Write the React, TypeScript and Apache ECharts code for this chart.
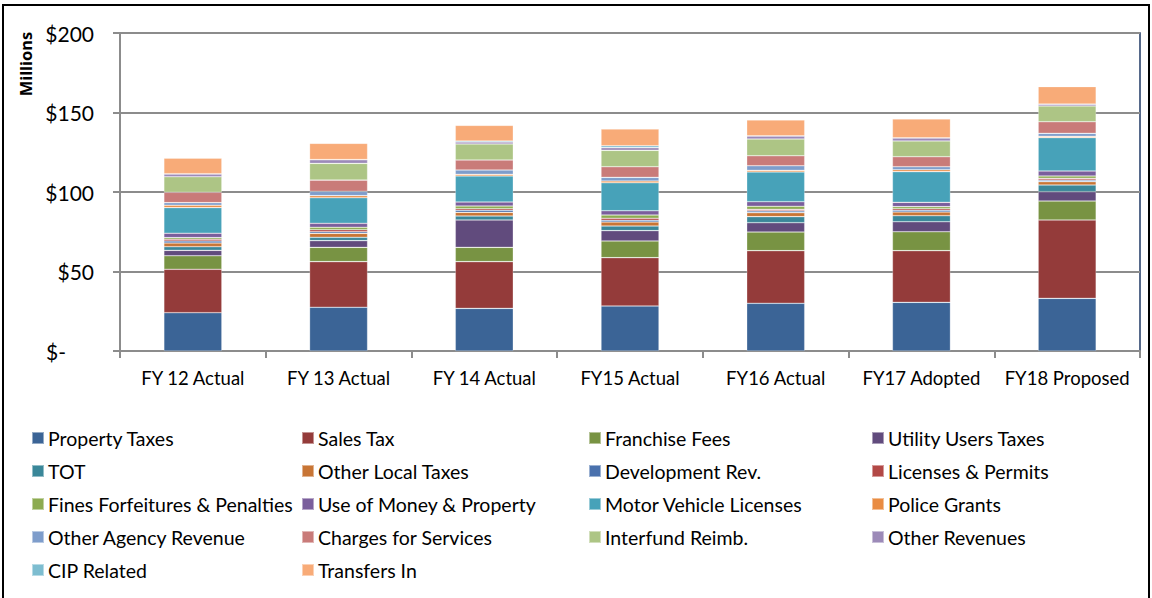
import React, { useEffect, useRef } from "react";
import * as echarts from "echarts";

const categories = ["FY 12 Actual", "FY 13 Actual", "FY 14 Actual", "FY15 Actual", "FY16 Actual", "FY17 Adopted", "FY18 Proposed"];

const seriesNames = [
  "Property Taxes", "Sales Tax", "Franchise Fees", "Utility Users Taxes",
  "TOT", "Other Local Taxes", "Development Rev.", "Licenses & Permits",
  "Fines Forfeitures & Penalties", "Use of Money & Property", "Motor Vehicle Licenses", "Police Grants",
  "Other Agency Revenue", "Charges for Services", "Interfund Reimb.", "Other Revenues",
  "CIP Related", "Transfers In",
];

const propertyTaxes = [24.1, 27.5, 26.8, 28.3, 30.0, 30.6, 33.1];
const salesTax = [27.3, 28.7, 29.4, 30.4, 33.1, 32.5, 49.3];
const franchiseFees = [8.5, 9.0, 9.0, 10.5, 11.7, 11.9, 11.9];
const utilityUsersTaxes = [3.4, 4.2, 17.2, 6.5, 5.9, 6.3, 5.9];
const tot = [2.3, 2.1, 2.5, 2.9, 3.8, 3.8, 4.2];
const otherLocalTaxes = [2.3, 2.5, 2.3, 2.5, 2.5, 2.3, 2.1];
const developmentRev = [1.3, 1.0, 1.3, 1.1, 1.1, 1.1, 1.0];
const licensesPermits = [1.1, 1.3, 1.0, 1.3, 1.0, 1.0, 1.1];
const finesPenalties = [1.0, 1.5, 1.7, 2.0, 1.9, 1.3, 1.5];
const useOfMoney = [2.8, 2.5, 2.5, 2.7, 2.9, 2.7, 3.1];
const motorVehicle = [16.1, 16.1, 16.4, 17.6, 18.7, 19.3, 21.0];
const policeGrants = [1.5, 1.3, 1.0, 1.1, 1.0, 1.2, 0.8];
const otherAgency = [1.6, 2.7, 2.7, 2.3, 2.9, 1.9, 1.9];
const chargesServices = [6.5, 7.1, 6.3, 6.7, 6.3, 6.3, 7.3];
const interfundReimb = [9.8, 10.5, 10.1, 10.3, 10.5, 9.9, 9.9];
const otherRevenues = [1.7, 2.3, 1.2, 1.7, 1.9, 1.9, 1.1];
const cipRelated = [0.2, 0.1, 0.7, 1.2, 0.1, 0.1, 0.1];
const transfersIn = [9.8, 10.2, 9.8, 10.5, 10.0, 11.8, 11.0];

const seriesValues = [
  propertyTaxes, salesTax, franchiseFees, utilityUsersTaxes,
  tot, otherLocalTaxes, developmentRev, licensesPermits,
  finesPenalties, useOfMoney, motorVehicle, policeGrants,
  otherAgency, chargesServices, interfundReimb, otherRevenues,
  cipRelated, transfersIn,
];

const colors = [
  "#3B6496", "#943B3A", "#789343", "#614B7D",
  "#3A8799", "#C87535", "#4A71AD", "#B24846",
  "#8CAB50", "#7A5E9C", "#47A2B9", "#E98C43",
  "#7E9DCB", "#C97B79", "#ADC585", "#9C8AB8",
  "#7DBDD0", "#F8AB78",
];

const yTicks = [0, 50, 100, 150, 200];

const FONT = "Lato";

export default function App() {
  const ref = useRef<HTMLDivElement>(null);
  useEffect(() => {
    if (!ref.current) return;
    const chart = echarts.init(ref.current, null, { renderer: "svg" });
    const legendCols = [0, 1, 2, 3].map((c) => seriesNames.filter((_, i) => i % 4 === c));
    const legendLefts = [31, 301, 588, 871];
    chart.setOption({
      animation: false,
      color: colors,
      grid: { left: 120, right: 12, top: 33, bottom: 247, show: true, borderColor: "#1F3864", borderWidth: 1.5 },
      xAxis: {
        type: "category",
        data: categories,
        axisLine: { lineStyle: { color: "#8C8C8C", width: 2 } },
        axisTick: { show: true, length: 7, lineStyle: { color: "#8C8C8C", width: 2 } },
        axisLabel: { color: "#000", fontFamily: FONT, fontSize: 18.5, margin: 17, interval: 0 },
      },
      yAxis: {
        type: "value",
        min: yTicks[0],
        max: yTicks[yTicks.length - 1],
        interval: 50,
        axisLine: { show: true, lineStyle: { color: "#8C8C8C", width: 2 } },
        axisTick: { show: true, length: 7, lineStyle: { color: "#8C8C8C", width: 2 } },
        splitLine: { lineStyle: { color: "#8C8C8C", width: 2 } },
        axisLabel: {
          color: "#000",
          fontFamily: FONT,
          fontSize: 21,
          margin: 26,
          formatter: (v: number) => (v === 0 ? "{z|$-}" : "$" + v),
          rich: { z: { fontFamily: FONT, fontSize: 21, color: "#000", padding: [0, 28, 0, 0] } },
        },
      },
      legend: legendCols.map((names, c) => ({
        orient: "vertical",
        left: legendLefts[c],
        top: 427,
        data: names,
        icon: "rect",
        itemWidth: 12,
        itemHeight: 12,
        itemGap: 11,
        padding: 0,
        textStyle: { fontFamily: FONT, fontSize: 19.5, color: "#000", lineHeight: 22, padding: [0, 0, 0, -1] },
        selectedMode: false,
      })),
      graphic: [
        {
          type: "rect",
          shape: { x: 3, y: 5, width: 1146, height: 620 },
          style: { fill: "none", stroke: "#000", lineWidth: 2 },
          silent: true,
        },
        {
          type: "text",
          x: 25,
          y: 64,
          rotation: Math.PI / 2,
          style: { text: "Millions", font: `bold 16.5px Noto Sans`, fill: "#000", align: "center", verticalAlign: "middle" },
        },
      ],
      series: seriesNames.map((name, i) => ({
        name,
        type: "bar",
        stack: "total",
        barWidth: 58,
        data: seriesValues[i],
        itemStyle: { color: colors[i], borderColor: "rgba(255,255,255,0.45)", borderWidth: 0.6 },
      })),
    });
    return () => chart.dispose();
  }, []);
  return <div ref={ref} style={{ position: "absolute", left: 0, top: 0, width: 1152, height: 598, background: "#fff" }} />;
}
